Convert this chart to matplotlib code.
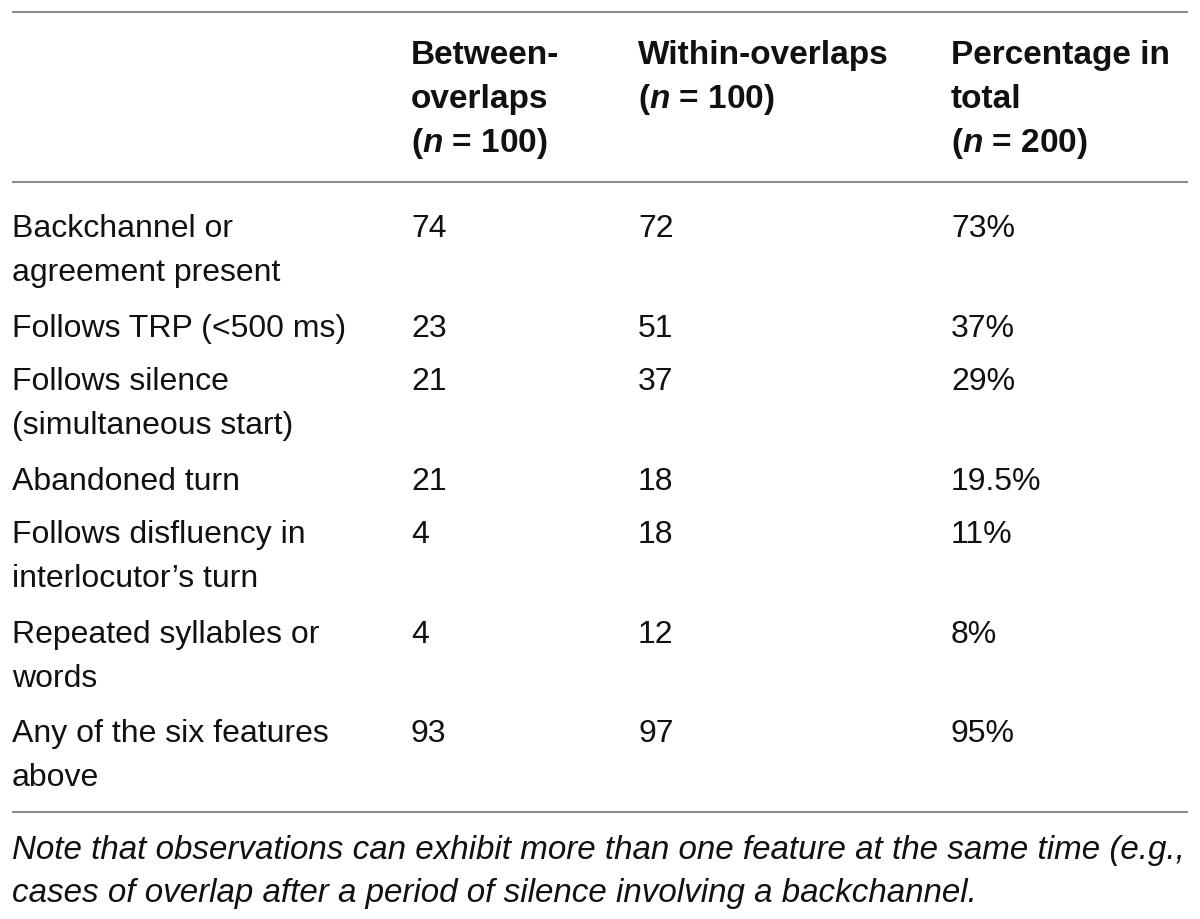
import matplotlib
matplotlib.use("Agg")
import matplotlib.pyplot as plt

# ---- data ----
col_headers = [
    ["Between-", "overlaps", "(n = 100)"],
    ["Within-overlaps", "(n = 100)"],
    ["Percentage in", "total", "(n = 200)"],
]
row_labels = [
    ["Backchannel or", "agreement present"],
    ["Follows TRP (<500 ms)"],
    ["Follows silence", "(simultaneous start)"],
    ["Abandoned turn"],
    ["Follows disfluency in", "interlocutor\u2019s turn"],
    ["Repeated syllables or", "words"],
    ["Any of the six features", "above"],
]
between = ["74", "23", "21", "21", "4", "4", "93"]
within = ["72", "51", "37", "18", "18", "12", "97"]
percent = ["73%", "37%", "29%", "19.5%", "11%", "8%", "95%"]
note_lines = [
    "Note that observations can exhibit more than one feature at the same time (e.g.,",
    "cases of overlap after a period of silence involving a backchannel.",
]

# ---- layout ----
W, H = 1200, 920
plt.rcParams["mathtext.fontset"] = "custom"
plt.rcParams["mathtext.it"] = "Liberation Sans:italic:bold"
plt.rcParams["mathtext.rm"] = "Liberation Sans:bold"

fig = plt.figure(figsize=(W / 100, H / 100), dpi=100)
ax = fig.add_axes([0, 0, 1, 1])
ax.set_xlim(0, W)
ax.set_ylim(H, 0)
ax.axis("off")

txt_color = "#111111"
line_color = "#8e8e8e"
body_fs = 23
head_fs = 24
col_x = [12, 411, 638, 951]
line_h = 44.5

# rules
for y in (13, 183, 813):
    ax.plot([12, 1188], [y, y], color=line_color, lw=1.5, solid_capstyle="butt")

# header
for ci, lines in enumerate(col_headers):
    for li, s in enumerate(lines):
        if "(n" in s:
            s = s.replace("(n", r"($\mathit{n}$")
        ax.text(col_x[ci + 1], 64 + li * 44, s, fontsize=head_fs,
                fontweight="bold", family="Liberation Sans",
                color=txt_color, va="baseline", ha="left")

# body rows
row_base = [237, 337, 390, 490, 543, 643, 742]
for ri, lines in enumerate(row_labels):
    yb = row_base[ri]
    for li, s in enumerate(lines):
        ax.text(col_x[0], yb + li * line_h, s, fontsize=body_fs,
                family="Liberation Sans", color=txt_color, va="baseline")
    for ci, vals in enumerate((between, within, percent)):
        ax.text(col_x[ci + 1], yb, vals[ri], fontsize=body_fs,
                family="Liberation Sans", color=txt_color, va="baseline")

# note (fit the first line to the table width)
renderer = fig.canvas.get_renderer()
note_txt = []
for li, s in enumerate(note_lines):
    t = ax.text(12, 859 + li * 43, s, fontsize=22, style="italic",
                family="Liberation Sans", color=txt_color, va="baseline")
    note_txt.append(t)
w0 = note_txt[0].get_window_extent(renderer).width
fs = 22 * (1174 / w0)
for t in note_txt:
    t.set_fontsize(fs)

fig.savefig("out.png", dpi=100, facecolor="white")
